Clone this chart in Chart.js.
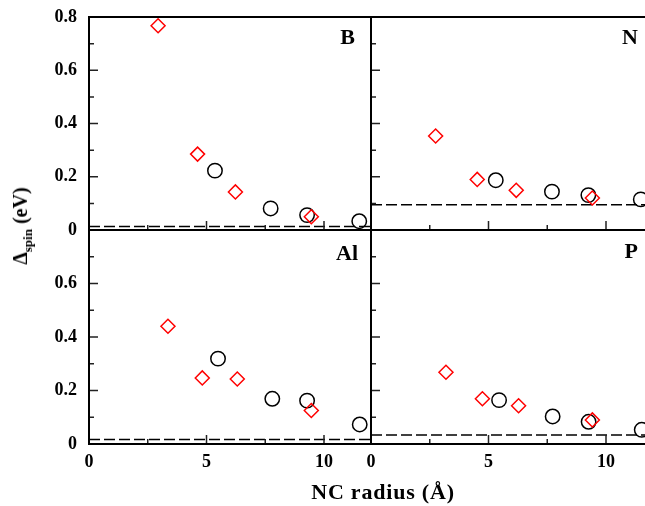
<!DOCTYPE html>
<html>
<head>
<meta charset="utf-8">
<script src="https://cdn.jsdelivr.net/npm/chart.js@4/dist/chart.umd.min.js"></script>
<style>
  html, body { margin: 0; padding: 0; background: #fff; overflow: hidden; }
  #wrap { position: relative; width: 645px; height: 506px; overflow: hidden; }
  #wrap canvas { position: absolute; left: 0; top: -20px; }
  .txt { position: absolute; font-family: 'Liberation Serif', 'Times New Roman', serif; font-weight: bold; color: #000; white-space: nowrap; line-height: 1; }
  .lbl { font-size: 22px; }
</style>
</head>
<body>
<div id="wrap">
  <canvas id="cB" width="660" height="546"></canvas>
  <canvas id="cN" width="660" height="546"></canvas>
  <canvas id="cAl" width="660" height="546"></canvas>
  <canvas id="cP" width="660" height="546"></canvas>
  <div class="txt lbl" style="right:290px; top:26px;">B</div>
  <div class="txt lbl" style="right:7px; top:26px;">N</div>
  <div class="txt lbl" style="right:287px; top:242px;">Al</div>
  <div class="txt lbl" style="right:7px; top:240px;">P</div>
  <div class="txt" id="ytitle" style="left:22px; top:226px; font-size:20px; transform: translate(-50%,-50%) rotate(-90deg);">&Delta;<sub style="font-size:13px;">spin</sub> (eV)</div>
  <div class="txt" style="left:383px; top:492px; font-size:22px; letter-spacing:0.8px; transform: translate(-50%,-50%);">NC radius (&Aring;)</div>
</div>
<script>
// panel B
const bDiamondX = [2.94, 4.62, 6.23, 9.46];
const bDiamondY = [0.767, 0.285, 0.143, 0.050];
const bCircleX = [5.36, 7.73, 9.28, 11.5];
const bCircleY = [0.223, 0.081, 0.056, 0.033];
// panel N
const nDiamondX = [2.75, 4.52, 6.18, 9.42];
const nDiamondY = [0.353, 0.190, 0.149, 0.120];
const nCircleX = [5.31, 7.70, 9.25, 11.48];
const nCircleY = [0.187, 0.144, 0.131, 0.115];
// panel Al
const alDiamondX = [3.36, 4.82, 6.31, 9.46];
const alDiamondY = [0.440, 0.247, 0.243, 0.125];
const alCircleX = [5.49, 7.80, 9.28, 11.52];
const alCircleY = [0.319, 0.169, 0.162, 0.073];
// panel P
const pDiamondX = [3.19, 4.74, 6.28, 9.42];
const pDiamondY = [0.268, 0.169, 0.143, 0.090];
const pCircleX = [5.45, 7.73, 9.26, 11.52];
const pCircleY = [0.164, 0.103, 0.083, 0.053];
// dashed reference levels B, N, Al, P
const dashLevels = [0.013, 0.095, 0.017, 0.034];

const xRange = [0, 12];
const yRange = [0, 0.8];
const xLabels = [0, 5, 10];
const yLabelsTop = [0, 0.2, 0.4, 0.6, 0.8];
const yLabelsBottom = [0, 0.2, 0.4, 0.6];
const xMajor = [5, 10];
const xMinor = [2.5, 7.5];
const yMajor = [0.2, 0.4, 0.6];
const yMinor = [0.1, 0.3, 0.5, 0.7];

const FONT = "'Liberation Serif', 'Times New Roman', serif";

function pts(xs, ys) {
  return xs.map((x, i) => ({x: x, y: ys[i]}));
}

// box + inward ticks
const frame = {
  id: 'frame',
  afterDraw(chart) {
    const ctx = chart.ctx;
    const a = chart.chartArea;
    const xs = chart.scales.x, ys = chart.scales.y;
    ctx.save();
    ctx.strokeStyle = '#222';
    ctx.lineWidth = 1.5;
    ctx.beginPath();
    yMajor.forEach(v => { const p = ys.getPixelForValue(v); ctx.moveTo(a.left, p); ctx.lineTo(a.left + 9, p); });
    yMinor.forEach(v => { const p = ys.getPixelForValue(v); ctx.moveTo(a.left, p); ctx.lineTo(a.left + 5, p); });
    xMajor.forEach(v => { const p = xs.getPixelForValue(v); ctx.moveTo(p, a.bottom); ctx.lineTo(p, a.bottom - 9); });
    xMinor.forEach(v => { const p = xs.getPixelForValue(v); ctx.moveTo(p, a.bottom); ctx.lineTo(p, a.bottom - 5); });
    ctx.stroke();
    ctx.strokeStyle = '#000';
    ctx.lineWidth = 2;
    ctx.strokeRect(a.left, a.top, a.right - a.left, a.bottom - a.top);
    ctx.restore();
  }
};

// canvas is 660x546 and sits 20px above the page top
// plot areas (canvas px): left 89-371, right 371-653; top 37-250, bottom 250-464
function makePanel(id, dx, dy, cx, cy, level, isLeft, isBottom, yLabels) {
  const pad = {
    left: isLeft ? 0 : 371,
    right: isLeft ? 289 : 7,
    top: isBottom ? 250 : 37,
    bottom: isBottom ? 20 : 296
  };
  new Chart(document.getElementById(id), {
    type: 'scatter',
    data: {
      datasets: [
        {
          data: pts(dx, dy),
          pointStyle: 'rectRot',
          pointRadius: 7,
          borderColor: '#ff0000',
          backgroundColor: 'rgba(0,0,0,0)',
          borderWidth: 1.5
        },
        {
          data: pts(cx, cy),
          pointStyle: 'circle',
          pointRadius: 7.2,
          borderColor: '#000',
          backgroundColor: 'rgba(0,0,0,0)',
          borderWidth: 1.5
        },
        {
          type: 'line',
          data: [{x: xRange[0], y: level}, {x: xRange[1], y: level}],
          borderColor: '#000',
          borderWidth: 1.5,
          borderDash: [11, 4],
          pointRadius: 0,
          fill: false
        }
      ]
    },
    options: {
      responsive: false,
      animation: false,
      events: [],
      layout: {autoPadding: false, padding: pad},
      plugins: {legend: {display: false}, tooltip: {enabled: false}},
      scales: {
        x: {
          type: 'linear',
          display: isBottom,
          min: xRange[0], max: xRange[1],
          grid: {display: false},
          border: {display: false},
          afterBuildTicks: s => { s.ticks = xLabels.map(v => ({value: v})); },
          afterFit: s => { s.height = isBottom ? 62 : 0; },
          ticks: {
            padding: 0,
            autoSkip: false,
            maxRotation: 0,
            color: '#000',
            font: {family: FONT, size: 18, weight: 'bold'},
            callback: v => String(v)
          }
        },
        y: {
          display: isLeft,
          min: yRange[0], max: yRange[1],
          grid: {display: false},
          border: {display: false},
          afterBuildTicks: s => { s.ticks = yLabels.map(v => ({value: v})); },
          afterFit: s => { s.width = isLeft ? 89 : 0; },
          ticks: {
            padding: 4,
            autoSkip: false,
            color: '#000',
            font: {family: FONT, size: 18, weight: 'bold'},
            callback: v => (v === 0 ? '0' : v.toFixed(1))
          }
        }
      }
    },
    plugins: [frame]
  });
}

makePanel('cB', bDiamondX, bDiamondY, bCircleX, bCircleY, dashLevels[0], true, false, yLabelsTop);
makePanel('cN', nDiamondX, nDiamondY, nCircleX, nCircleY, dashLevels[1], false, false, yLabelsTop);
makePanel('cAl', alDiamondX, alDiamondY, alCircleX, alCircleY, dashLevels[2], true, true, yLabelsBottom);
makePanel('cP', pDiamondX, pDiamondY, pCircleX, pCircleY, dashLevels[3], false, true, yLabelsBottom);
</script>
</body>
</html>
